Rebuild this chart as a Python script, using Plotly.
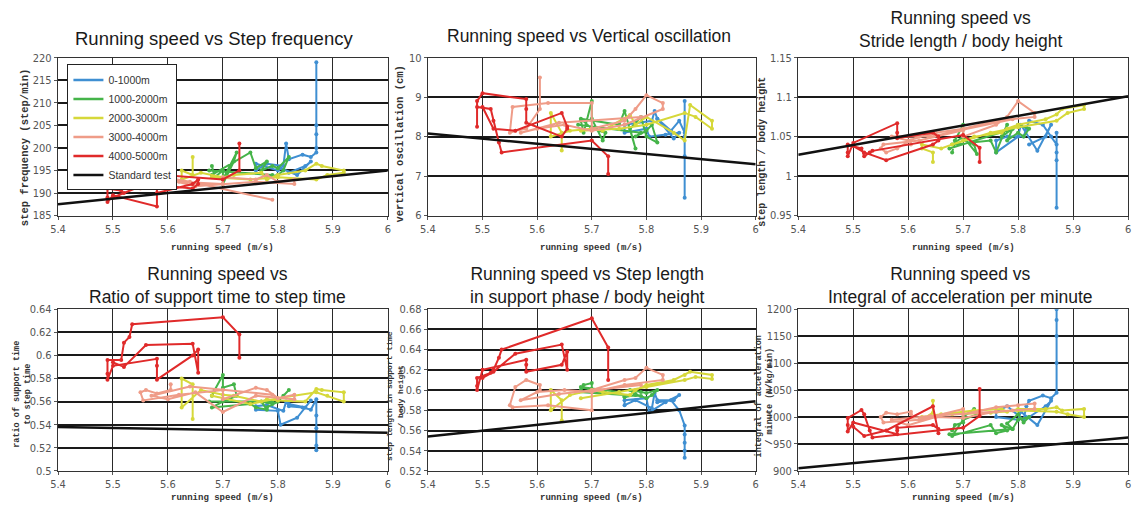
import plotly.graph_objects as go

W, H = 1135, 515
def px(x): return x / W
def py(y): return 1 - y / H

segments = ["0-1000m", "1000-2000m", "2000-3000m", "3000-4000m", "4000-5000m"]
seg_colors = ["#3f8fd2", "#45b449", "#d6d83a", "#ef9c88", "#e02a2a"]

# running speed (m/s) trajectories per segment (shared by all panels)
speed_0_1000 = [5.87, 5.87, 5.87, 5.87, 5.87, 5.86, 5.845, 5.82, 5.815, 5.81, 5.78, 5.76, 5.76, 5.80, 5.805, 5.835, 5.86, 5.85, 5.82]
speed_1000_2000 = [5.68, 5.685, 5.70, 5.70, 5.72, 5.725, 5.70, 5.68, 5.75, 5.76, 5.78, 5.77, 5.79, 5.80, 5.82, 5.81, 5.80, 5.78, 5.79, 5.675]
speed_2000_3000 = [5.645, 5.645, 5.625, 5.625, 5.66, 5.70, 5.72, 5.77, 5.78, 5.80, 5.85, 5.87, 5.88, 5.92, 5.92, 5.89, 5.87, 5.80, 5.75, 5.68]
speed_3000_4000 = [5.605, 5.605, 5.58, 5.56, 5.55, 5.555, 5.62, 5.70, 5.70, 5.76, 5.78, 5.80, 5.83, 5.83, 5.76, 5.70, 5.65, 5.60, 5.57, 5.64, 5.79]
speed_4000_5000 = [5.73, 5.73, 5.70, 5.535, 5.53, 5.52, 5.515, 5.49, 5.49, 5.49, 5.50, 5.58, 5.58, 5.58, 5.645, 5.655, 5.655, 5.645, 5.56, 5.52, 5.50]
std_speed = [5.4, 6.0]

# step frequency (step/min)
stepfreq_0_1000 = [219, 205, 203, 200, 199, 198, 198.5, 197.5, 201, 196, 196.5, 195, 196.5, 195, 195.5, 194, 197, 196, 194.5]
stepfreq_1000_2000 = [196, 193.5, 195, 192, 197, 199, 193, 194, 199, 195.5, 197, 195, 196, 195.5, 198, 195, 194, 193.5, 194, 195]
stepfreq_2000_3000 = [198, 194, 195, 193, 194.5, 193.5, 194, 194.5, 193, 194, 195, 196.5, 196, 195, 194.5, 194, 193, 193.5, 193, 193.5]
stepfreq_3000_4000 = [193, 192, 191.5, 192.5, 191, 193.5, 192.5, 192, 193.5, 193, 194, 192.5, 193, 192, 192.5, 192, 191.5, 193, 194, 192.5, 188.5]
stepfreq_4000_5000 = [201, 195, 193, 194.5, 193, 191.5, 190.5, 191, 189, 188, 189.5, 187, 191, 190, 192, 193, 192, 191, 192, 190, 189]
stepfreq_std = [187.5, 195]

# vertical oscillation (cm)
vosc_0_1000 = [6.45, 7.5, 8.0, 8.9, 8.1, 8.4, 8.15, 8.45, 8.65, 8.4, 8.35, 8.3, 8.1, 8.2, 8.0, 8.05, 8.1, 7.95, 8.45]
vosc_1000_2000 = [8.4, 8.1, 8.9, 8.45, 7.9, 8.1, 8.2, 8.45, 8.3, 8.65, 7.7, 8.2, 8.5, 8.0, 7.85, 8.3, 8.15, 8.0, 8.1, 8.3]
vosc_2000_3000 = [7.65, 8.1, 8.6, 8.0, 8.15, 8.2, 8.15, 8.55, 8.3, 8.5, 8.1, 7.9, 8.8, 8.4, 8.2, 8.5, 8.6, 8.3, 8.2, 8.15]
vosc_3000_4000 = [9.5, 8.7, 8.2, 8.15, 8.1, 8.75, 8.85, 8.85, 8.2, 8.4, 8.7, 9.05, 8.85, 8.7, 8.3, 8.15, 8.3, 8.2, 8.1, 8.35, 8.5]
vosc_4000_5000 = [7.05, 7.5, 7.9, 7.6, 7.85, 8.4, 8.7, 8.75, 8.25, 8.9, 9.1, 8.95, 8.7, 8.35, 8.0, 8.2, 8.25, 8.6, 8.15, 8.2, 8.75]
vosc_std = [8.08, 7.3]

# stride length / body height
stride_0_1000 = [0.96, 1.02, 1.03, 1.055, 1.04, 1.05, 1.065, 1.07, 1.06, 1.05, 1.05, 1.045, 1.03, 1.05, 1.065, 1.032, 1.065, 1.05, 1.04]
stride_1000_2000 = [1.03, 1.045, 1.065, 1.045, 1.04, 1.028, 1.05, 1.04, 1.045, 1.03, 1.065, 1.05, 1.06, 1.065, 1.06, 1.05, 1.055, 1.045, 1.06, 1.035]
stride_2000_3000 = [1.018, 1.03, 1.035, 1.04, 1.035, 1.045, 1.05, 1.055, 1.06, 1.065, 1.072, 1.078, 1.085, 1.09, 1.085, 1.08, 1.07, 1.062, 1.055, 1.04]
stride_3000_4000 = [1.04, 1.045, 1.035, 1.03, 1.035, 1.04, 1.045, 1.058, 1.05, 1.065, 1.075, 1.095, 1.08, 1.075, 1.07, 1.06, 1.055, 1.045, 1.05, 1.05, 1.072]
stride_4000_5000 = [1.018, 1.036, 1.052, 1.032, 1.03, 1.025, 1.035, 1.04, 1.03, 1.025, 1.042, 1.067, 1.055, 1.048, 1.055, 1.05, 1.045, 1.04, 1.02, 1.03, 1.038]
stride_std = [1.027, 1.101]

# ratio of support time to step time
ratio_0_1000 = [0.518, 0.522, 0.537, 0.548, 0.562, 0.553, 0.555, 0.556, 0.56, 0.552, 0.557, 0.556, 0.553, 0.552, 0.54, 0.546, 0.561, 0.555, 0.558]
ratio_1000_2000 = [0.565, 0.57, 0.583, 0.572, 0.575, 0.565, 0.56, 0.555, 0.558, 0.555, 0.553, 0.56, 0.558, 0.56, 0.57, 0.565, 0.56, 0.555, 0.56, 0.56]
ratio_2000_3000 = [0.545, 0.575, 0.58, 0.555, 0.57, 0.566, 0.565, 0.56, 0.562, 0.561, 0.56, 0.571, 0.57, 0.568, 0.56, 0.565, 0.568, 0.563, 0.558, 0.565]
ratio_3000_4000 = [0.575, 0.57, 0.567, 0.57, 0.568, 0.561, 0.566, 0.57, 0.562, 0.572, 0.57, 0.563, 0.566, 0.562, 0.565, 0.551, 0.568, 0.562, 0.565, 0.573, 0.566]
ratio_4000_5000 = [0.598, 0.618, 0.633, 0.627, 0.616, 0.611, 0.596, 0.596, 0.584, 0.579, 0.591, 0.597, 0.591, 0.579, 0.60, 0.605, 0.585, 0.61, 0.609, 0.59, 0.594]
ratio_std = [0.538, 0.533]

# step length in support phase / body height
support_0_1000 = [0.533, 0.54, 0.548, 0.556, 0.565, 0.58, 0.59, 0.59, 0.597, 0.582, 0.59, 0.585, 0.59, 0.592, 0.578, 0.588, 0.595, 0.59, 0.588]
support_1000_2000 = [0.60, 0.605, 0.607, 0.598, 0.598, 0.597, 0.60, 0.603, 0.598, 0.593, 0.595, 0.60, 0.598, 0.597, 0.60, 0.595, 0.592, 0.596, 0.594, 0.598]
support_2000_3000 = [0.57, 0.59, 0.60, 0.58, 0.595, 0.60, 0.598, 0.595, 0.60, 0.605, 0.61, 0.615, 0.618, 0.615, 0.611, 0.613, 0.61, 0.603, 0.598, 0.592]
support_3000_4000 = [0.60, 0.605, 0.61, 0.603, 0.585, 0.583, 0.585, 0.58, 0.60, 0.61, 0.612, 0.622, 0.615, 0.61, 0.605, 0.598, 0.60, 0.598, 0.59, 0.596, 0.605]
support_4000_5000 = [0.61, 0.642, 0.671, 0.64, 0.632, 0.62, 0.617, 0.612, 0.604, 0.60, 0.62, 0.63, 0.625, 0.618, 0.625, 0.638, 0.62, 0.645, 0.636, 0.618, 0.612]
support_std = [0.554, 0.589]

# integral of acceleration per minute
accel_0_1000 = [1200, 1180, 1150, 1100, 1045, 1035, 1040, 1030, 1020, 995, 1020, 1010, 1000, 995, 1010, 985, 1030, 1020, 1000]
accel_1000_2000 = [975, 985, 990, 1000, 1015, 1005, 995, 965, 985, 970, 975, 985, 978, 995, 1000, 990, 1005, 988, 978, 968]
accel_2000_3000 = [1030, 1008, 995, 1000, 1005, 1010, 1012, 1015, 1010, 1015, 1015, 1018, 1012, 1015, 1000, 1005, 1010, 1012, 1008, 1005]
accel_3000_4000 = [1005, 1010, 1005, 1008, 1000, 990, 995, 1015, 1005, 1018, 1020, 1022, 1025, 1015, 1010, 998, 1000, 985, 995, 1002, 1012]
accel_4000_5000 = [1052, 1002, 980, 962, 975, 1005, 1013, 998, 985, 973, 990, 968, 975, 980, 985, 978, 970, 1020, 975, 965, 982]
accel_std = [905, 962]

speeds = [speed_0_1000, speed_1000_2000, speed_2000_3000, speed_3000_4000, speed_4000_5000]

panels = [
    dict(series=[stepfreq_0_1000, stepfreq_1000_2000, stepfreq_2000_3000, stepfreq_3000_4000, stepfreq_4000_5000], std=stepfreq_std,
         yr=[185, 220], dt=5,
         title="Running speed vs Step frequency", tpos=(208, 33), tsize=18.5,
         ytitle="step frequency (step/min)", ytpos=(18, 145), ytsize=10.5),
    dict(series=[vosc_0_1000, vosc_1000_2000, vosc_2000_3000, vosc_3000_4000, vosc_4000_5000], std=vosc_std,
         yr=[6, 10], dt=1,
         title="Running speed vs Vertical oscillation", tpos=(587, 31), tsize=17.5,
         ytitle="vertical oscillation (cm)", ytpos=(396, 141), ytsize=10.5),
    dict(series=[stride_0_1000, stride_1000_2000, stride_2000_3000, stride_3000_4000, stride_4000_5000], std=stride_std,
         yr=[0.95, 1.15], dt=0.05,
         title="Running speed vs<br>Stride length / body height", tpos=(962, 24), tsize=17.5,
         ytitle="step length / body height", ytpos=(762, 150), ytsize=10),
    dict(series=[ratio_0_1000, ratio_1000_2000, ratio_2000_3000, ratio_3000_4000, ratio_4000_5000], std=ratio_std,
         yr=[0.5, 0.64], dt=0.02,
         title="Running speed vs<br>Ratio of support time to step time", tpos=(212, 287), tsize=17.5,
         ytitle="ratio of support time<br>to step time", ytpos=(15, 398), ytsize=8.5),
    dict(series=[support_0_1000, support_1000_2000, support_2000_3000, support_3000_4000, support_4000_5000], std=support_std,
         yr=[0.52, 0.68], dt=0.02,
         title="Running speed vs Step length<br>in support phase / body height", tpos=(585, 287), tsize=17.5,
         ytitle="step length in support time<br>/ body height", ytpos=(391, 400), ytsize=8),
    dict(series=[accel_0_1000, accel_1000_2000, accel_2000_3000, accel_3000_4000, accel_4000_5000], std=accel_std,
         yr=[900, 1200], dt=50,
         title="Running speed vs<br>Integral of acceleration per minute", tpos=(962, 287), tsize=17.5,
         ytitle="integral of acceleration<br>/ minute (N/kg/min)", ytpos=(764, 401), ytsize=8.5),
]

col_dom = [[px(50.5), px(383.5)], [px(424), px(755)], [px(798), px(1131)]]
row_dom = [[py(215), py(53)], [py(477), py(311)]]

tick_font = dict(family="DejaVu Sans Condensed, Liberation Sans Narrow, Liberation Sans, Arial", size=11, color="#555")

fig = go.Figure()
annotations = []
layout = {}
for i, p in enumerate(panels):
    r, c = divmod(i, 3)
    n = i + 1
    xa = "x" if n == 1 else f"x{n}"
    ya = "y" if n == 1 else f"y{n}"
    for k in range(5):
        fig.add_trace(go.Scatter(
            x=speeds[k], y=p["series"][k], mode="lines+markers",
            line=dict(color=seg_colors[k], width=2),
            marker=dict(color=seg_colors[k], size=4),
            name=segments[k], showlegend=False,
            xaxis=xa, yaxis=ya))
    fig.add_trace(go.Scatter(
        x=std_speed, y=p["std"], mode="lines",
        line=dict(color="#111111", width=2.5),
        name="Standard test", showlegend=False,
        xaxis=xa, yaxis=ya))
    layout[f"xaxis{'' if n == 1 else n}"] = dict(
        domain=col_dom[c], anchor=ya, range=[5.4, 6.0], dtick=0.1, tick0=5.4,
        showgrid=True, gridcolor="#2a2a2a", gridwidth=1.3,
        showline=True, linecolor="#333", linewidth=1.3, mirror=True,
        ticks="outside", ticklen=3, tickcolor="#555", zeroline=False,
        tickfont=tick_font)
    layout[f"yaxis{'' if n == 1 else n}"] = dict(
        domain=row_dom[r], anchor=xa, range=p["yr"], dtick=p["dt"],
        showgrid=True, gridcolor="#1a1a1a", gridwidth=2,
        showline=True, linecolor="#333", linewidth=1.3, mirror=True,
        ticks="outside", ticklen=3, tickcolor="#555", zeroline=False,
        tickfont=tick_font)
    annotations.append(dict(
        text=p["title"], x=px(p["tpos"][0]), y=py(p["tpos"][1]), xref="paper", yref="paper",
        xanchor="center", yanchor="middle", showarrow=False,
        font=dict(family="Liberation Sans, Arial", size=p["tsize"], color="#1a1a1a")))
    annotations.append(dict(
        text="<b>" + p["ytitle"] + "</b>", x=px(p["ytpos"][0]), y=py(p["ytpos"][1]),
        xref="paper", yref="paper", xanchor="center", yanchor="middle", showarrow=False,
        textangle=-90,
        font=dict(family="Liberation Mono, DejaVu Sans Mono, monospace", size=p["ytsize"], color="#333")))
    cx = (col_dom[c][0] + col_dom[c][1]) / 2
    annotations.append(dict(
        text="<b>running speed (m/s)</b>", x=cx, y=py(248 if r == 0 else 505),
        xref="paper", yref="paper", xanchor="center", yanchor="middle", showarrow=False,
        font=dict(family="Liberation Mono, DejaVu Sans Mono, monospace", size=9, color="#333")))

# legend-only entries (lines without markers, as in the reference legend)
for k in range(5):
    fig.add_trace(go.Scatter(x=[None], y=[None], mode="lines",
                             line=dict(color=seg_colors[k], width=2.5),
                             name=segments[k], showlegend=True))
fig.add_trace(go.Scatter(x=[None], y=[None], mode="lines",
                         line=dict(color="#111111", width=2.5),
                         name="Standard test", showlegend=True))

fig.update_layout(
    width=W, height=H, margin=dict(l=0, r=0, t=0, b=0),
    paper_bgcolor="white", plot_bgcolor="white",
    showlegend=True,
    legend=dict(x=px(60), y=py(60), xanchor="left", yanchor="top",
                bgcolor="white", bordercolor="#222", borderwidth=1,
                font=dict(family="Liberation Sans, Arial", size=10.5, color="#333"),
                tracegroupgap=0, itemwidth=30),
    annotations=annotations,
    **layout)

fig.write_html("out.html")
